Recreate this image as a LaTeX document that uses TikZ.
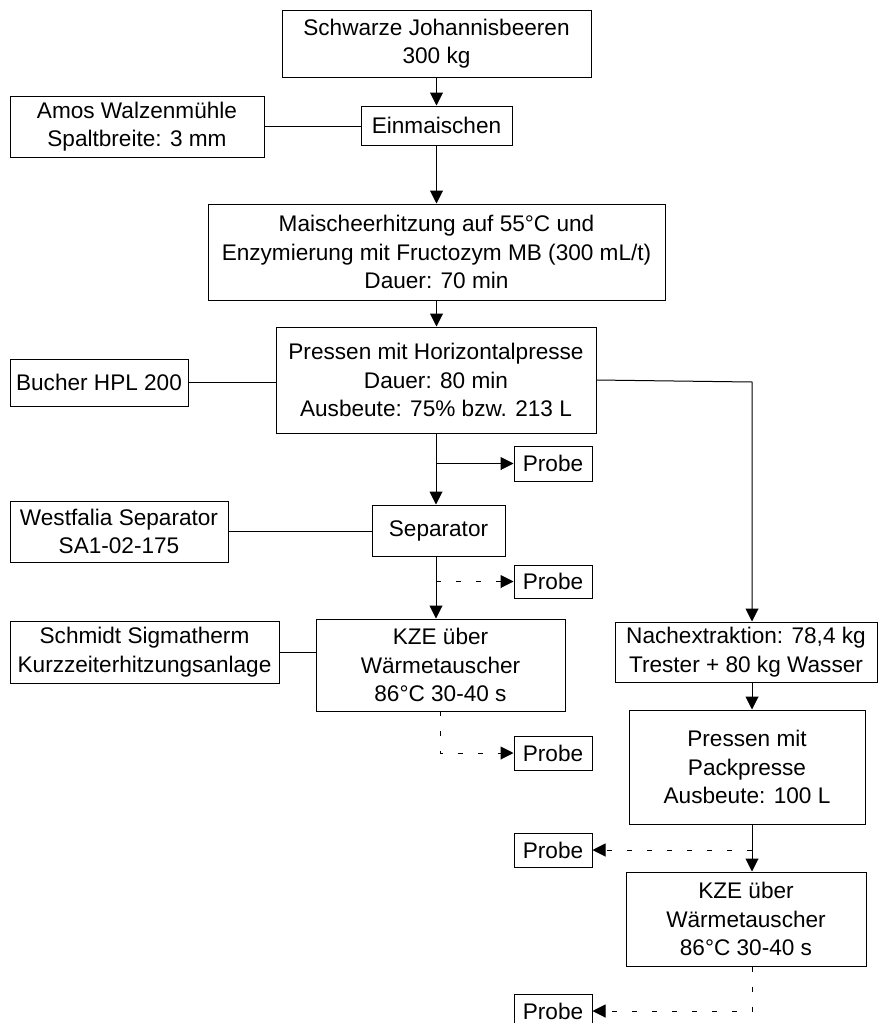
\documentclass[tikz,border=0pt]{standalone}
\usepackage{fontspec}
\setmainfont{Liberation Sans}
\usetikzlibrary{arrows.meta}
\begin{document}
\begin{tikzpicture}[x=1pt,y=-1pt,
  box/.style={draw,line width=1pt,inner sep=0pt,align=center,
    font=\fontsize{22.6}{28.5}\selectfont},
  link/.style={line width=1pt},
  arr/.style={line width=1pt,-{Triangle[length=13pt,width=13pt]}},
  darr/.style={arr,dash pattern=on 5pt off 15pt}]
\useasboundingbox (0,0) rectangle (878,1023);
% left/main column
\node[box,minimum width=309,minimum height=67] (b1) at (436.5,43.5) {Schwarze Johannisbeeren\\300 kg};
\node[box,minimum width=151,minimum height=39] (ein) at (436.5,125.5) {Einmaischen};
\node[box,minimum width=254,minimum height=61] (amos) at (137,126.5) {Amos Walzenmühle\\Spaltbreite: 3 mm};
\node[box,minimum width=457,minimum height=96] (mai) at (436.5,252) {Maischeerhitzung auf 55°C und\\Enzymierung mit Fructozym MB (300 mL/t)\\Dauer: 70 min};
\node[box,minimum width=320,minimum height=106] (pres) at (436,380) {Pressen mit Horizontalpresse\\Dauer: 80 min\\Ausbeute: 75\% bzw. 213 L};
\node[box,minimum width=178,minimum height=47] (buch) at (99,382.5) {Bucher HPL 200};
\node[box,minimum width=78,minimum height=35] (p1) at (553,463.5) {Probe};
\node[box,minimum width=218,minimum height=61] (west) at (119,531.5) {Westfalia Separator\\SA1-02-175};
\node[box,minimum width=133,minimum height=51] (sep) at (438.5,530.5) {Separator};
\node[box,minimum width=78,minimum height=33] (p2) at (553,581.5) {Probe};
\node[box,minimum width=269,minimum height=62] (schm) at (144.5,652) {Schmidt Sigmatherm\\Kurzzeiterhitzungsanlage};
\node[box,minimum width=249,minimum height=92] (kze1) at (440.5,665) {KZE über\\Wärmetauscher\\86°C 30-40 s};
\node[box,minimum width=78,minimum height=34] (p3) at (553,753) {Probe};
% right column
\node[box,minimum width=262,minimum height=60] (nach) at (746,652) {Nachextraktion: 78,4 kg\\Trester + 80 kg Wasser};
\node[box,minimum width=236,minimum height=114] (pack) at (747,767) {Pressen mit\\Packpresse\\Ausbeute: 100 L};
\node[box,minimum width=78,minimum height=34] (p4) at (553,850) {Probe};
\node[box,minimum width=240,minimum height=94] (kze2) at (746,919) {KZE über\\Wärmetauscher\\86°C 30-40 s};
\node[box,minimum width=78,minimum height=34] (p5) at (553,1011) {Probe};
% coordinates
\coordinate (mx) at (436,0);
\coordinate (rx) at (752,0);
\coordinate (rc) at (752,382);
\coordinate (br1) at (436,463.5);
\coordinate (br2) at (436,581.5);
\coordinate (k1b) at (440,711);
\coordinate (br4) at (752,850);
% connectors
\draw[arr] (b1.south) -- (ein.north);
\draw[link] (amos.east) -- (amos.east -| ein.west);
\draw[arr] (ein.south) -- (mai.north);
\draw[arr] (mai.south) -- (mai.south |- pres.north);
\draw[link] (buch.east) -- (buch.east -| pres.west);
\draw[arr] (pres.east) -- (rc) -- (rx |- nach.north);
\draw[arr] (mx |- pres.south) -- (mx |- sep.north);
\draw[arr] (br1) -- (p1.west);
\draw[link] (west.east) -- (west.east -| sep.west);
\draw[arr] (mx |- sep.south) -- (mx |- kze1.north);
\draw[darr] (br2) -- (p2.west);
\draw[link] (schm.east) -- (schm.east -| kze1.west);
\draw[darr] (k1b) -- (k1b |- p3.west) -- (p3.west);
\draw[arr] (rx |- nach.south) -- (rx |- pack.north);
\draw[arr] (rx |- pack.south) -- (rx |- kze2.north);
\draw[darr] (br4) -- (p4.east);
\draw[darr] (rx |- kze2.south) -- (rx |- p5.east) -- (p5.east);
\end{tikzpicture}
\end{document}
